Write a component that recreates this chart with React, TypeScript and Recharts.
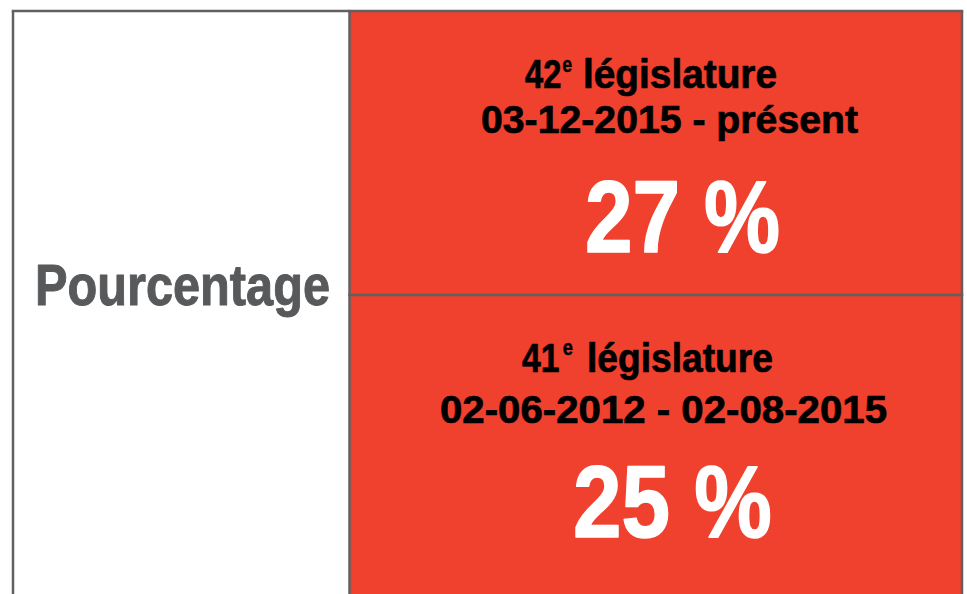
import React from 'react';
import { BarChart, Bar, XAxis, YAxis } from 'recharts';

// ---- data ----
const legislatureNumbers = ['42', '41'];
const ordinalSuffix = ['e', 'e'];
const legislatureWord = 'législature';
const periods = ['03-12-2015 - présent', '02-06-2012 - 02-08-2015'];
const percentages = [27, 25];
const rowHeader = 'Pourcentage';

const data = legislatureNumbers.map((n, i) => ({
  legislature: n,
  suffix: ordinalSuffix[i],
  period: periods[i],
  pct: percentages[i],
}));

// ---- style / layout ----
const RED = '#EF412D';
const BORDER = '#606060';
const BW = 2.5;
const FONT = '"Liberation Sans", Arial, sans-serif';

// offsets relative to each cell's top-left corner: [x, textLength, baseline]
const ROW_LAYOUT = [
  { num: [175.5, 47, 77], supDx: 1, supDy: -16, word: [233.5, 194, 77], dates: [131.5, 377, 122], pct: [235.5, 195, 241] },
  { num: [172.5, 51, 77], supDx: 4, supDy: -17, word: [237.5, 186, 77], dates: [90.5, 447, 128], pct: [223.5, 199, 242] },
];

const T = ({ x, y, len, size, fill, sw, children }: any) => (
  <text
    x={x}
    y={y}
    textLength={len}
    lengthAdjust="spacingAndGlyphs"
    fontSize={size}
    fontWeight="bold"
    fontFamily={FONT}
    fill={fill}
    stroke={fill}
    strokeWidth={sw}
    strokeLinejoin="round"
  >
    {children}
  </text>
);

const CellShape = (props: any) => {
  const { x, y, width, height, index } = props;
  const row = data[index];
  const L = ROW_LAYOUT[index];
  const last = index === data.length - 1;
  const h = last ? height + 60 : height;
  return (
    <g>
      <rect x={x} y={y} width={width} height={h} fill={RED} />
      <line x1={x - 1.25} x2={x + width + 1.25} y1={y} y2={y} stroke={BORDER} strokeWidth={BW} />
      <line x1={x} x2={x} y1={y} y2={y + h} stroke={BORDER} strokeWidth={BW} />
      <line x1={x + width} x2={x + width} y1={y} y2={y + h} stroke={BORDER} strokeWidth={BW} />
      <T x={x + L.num[0]} y={y + L.num[2]} len={L.num[1]} size={40.5} fill="#000" sw={0.7}>
        {row.legislature}
        <tspan dx={L.supDx} dy={L.supDy} fontSize={22} strokeWidth={0.4}>{row.suffix}</tspan>
      </T>
      <T x={x + L.word[0]} y={y + L.word[2]} len={L.word[1]} size={40.5} fill="#000" sw={0.7}>{legislatureWord}</T>
      <T x={x + L.dates[0]} y={y + L.dates[2]} len={L.dates[1]} size={38.5} fill="#000" sw={0.7}>{row.period}</T>
      <T x={x + L.pct[0]} y={y + L.pct[2]} len={L.pct[1]} size={102} fill="#fff" sw={1.6}>{`${row.pct} %`}</T>
    </g>
  );
};

const LeftColumn = (props: any) => {
  const vb = props.viewBox || { x: 13, y: 11, width: 336.5, height: 568 };
  const { x, y, width, height } = vb;
  return (
    <g>
      <line x1={x - 1.25} x2={x + width} y1={y} y2={y} stroke={BORDER} strokeWidth={BW} />
      <line x1={x} x2={x} y1={y} y2={y + height + 60} stroke={BORDER} strokeWidth={BW} />
      <text
        x={x + 22}
        y={y + height / 2 + 10}
        textLength={295}
        lengthAdjust="spacingAndGlyphs"
        fontSize={57}
        fontWeight="bold"
        fontFamily={FONT}
        fill="#58595B"
        stroke="#58595B"
        strokeWidth={1}
        strokeLinejoin="round"
      >
        {rowHeader}
      </text>
    </g>
  );
};

export default function App() {
  return (
    <div
      style={{
        position: 'absolute',
        left: 0,
        top: 0,
        width: 967,
        height: 594,
        overflow: 'hidden',
        background: '#fff',
      }}
    >
      <BarChart
        width={967}
        height={640}
        data={data}
        layout="vertical"
        barCategoryGap={0}
        margin={{ top: 11, right: 5, bottom: 61, left: 13 }}
      >
        <XAxis type="number" domain={[0, 1]} hide />
        <YAxis
          type="category"
          dataKey="legislature"
          width={336.5}
          tick={false}
          tickLine={false}
          axisLine={false}
          label={(p: any) => <LeftColumn {...p} />}
        />
        <Bar dataKey={() => 1} shape={CellShape} isAnimationActive={false} />
      </BarChart>
    </div>
  );
}
